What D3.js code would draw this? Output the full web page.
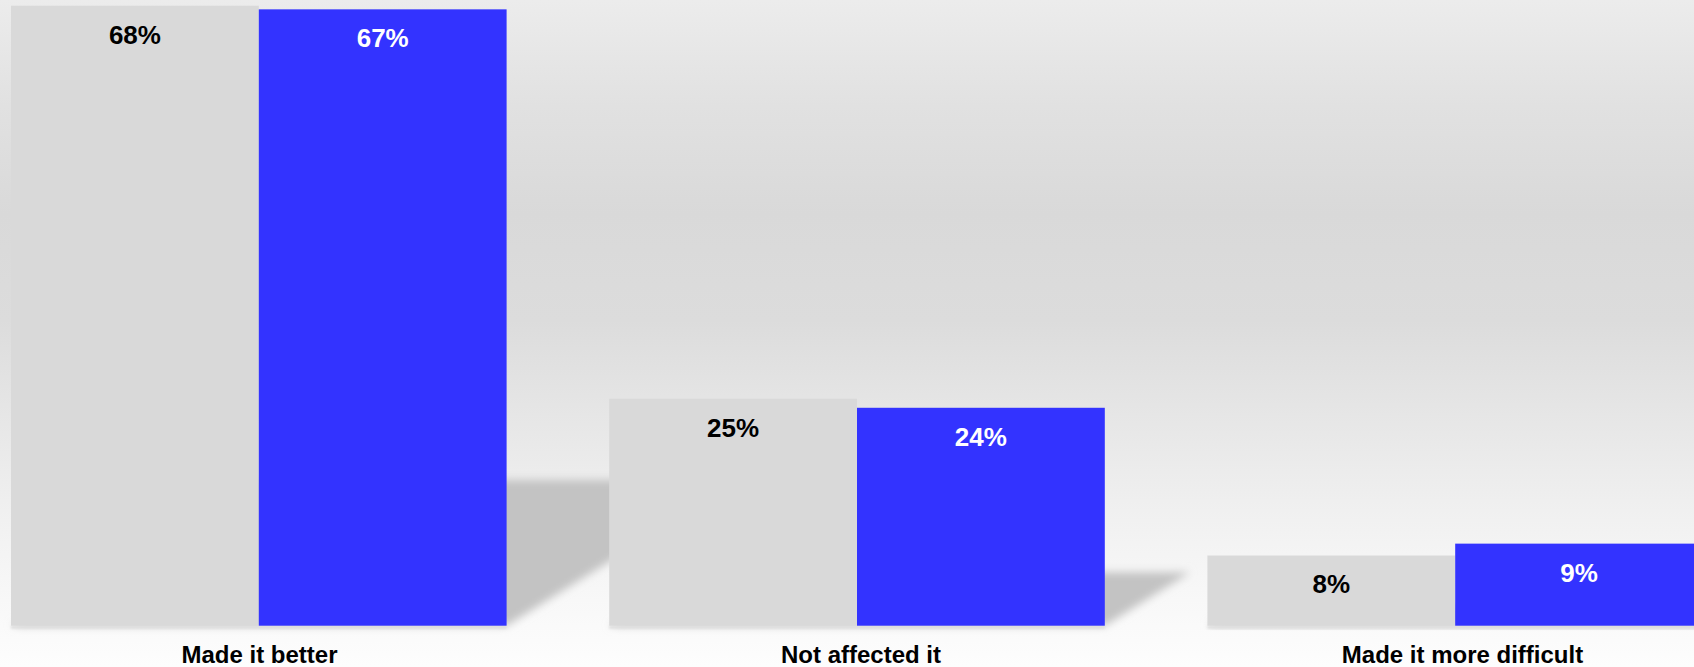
<!DOCTYPE html>
<html>
<head>
<meta charset="utf-8">
<script src="https://cdn.jsdelivr.net/npm/d3@7"></script>
<style>
  html, body { margin: 0; padding: 0; background: #ffffff; }
  svg { display: block; }
  text { font-family: "Liberation Sans", Arial, Helvetica, sans-serif; font-weight: bold; }
</style>
</head>
<body>
<div id="chart"></div>
<script>
// ---- data ----
const categories = ["Made it better", "Not affected it", "Made it more difficult"];
const seriesNames = ["Series A", "Series B"];
const seriesA = [68.0, 24.9, 7.7];
const seriesB = [67.6, 23.9, 9.0];
const labelsA = ["68%", "25%", "8%"];
const labelsB = ["67%", "24%", "9%"];
const yMax = 68;

// ---- layout ----
const W = 1694, H = 667;
const plotLeft = 11, plotRight = 1703, plotTop = 5.7, plotBottom = 625.7;
const colors = { "Series A": "#d9d9d9", "Series B": "#3333ff" };
const labelColors = { "Series A": "#000000", "Series B": "#ffffff" };

const rows = categories.map((c, i) => ({
  category: c,
  values: [
    { key: seriesNames[0], value: seriesA[i], label: labelsA[i] },
    { key: seriesNames[1], value: seriesB[i], label: labelsB[i] }
  ]
}));

const svg = d3.select("#chart").append("svg")
  .attr("width", W).attr("height", H);

const defs = svg.append("defs");
const grad = defs.append("linearGradient").attr("id", "bg")
  .attr("x1", 0).attr("y1", 0).attr("x2", 0).attr("y2", 1);
[[0, "#ececec"], [0.16, "#e1e1e1"], [0.32, "#d9d9d9"], [0.48, "#dcdcdc"],
 [0.65, "#e8e8e8"], [0.78, "#f1f1f1"], [0.9, "#f8f8f8"], [1, "#fdfdfd"]]
  .forEach(([o, c]) => grad.append("stop").attr("offset", o).attr("stop-color", c));

defs.append("filter").attr("id", "blur")
  .attr("x", "-20%").attr("y", "-20%").attr("width", "140%").attr("height", "140%")
  .append("feGaussianBlur").attr("stdDeviation", 4);
defs.append("filter").attr("id", "blur2")
  .attr("x", "-5%").attr("y", "-100%").attr("width", "110%").attr("height", "300%")
  .append("feGaussianBlur").attr("stdDeviation", 1.2);

svg.append("rect").attr("width", W).attr("height", H).attr("fill", "url(#bg)");

const x0 = d3.scaleBand().domain(categories).range([plotLeft, plotRight])
  .paddingInner(0.1715).paddingOuter(0);
const x1 = d3.scaleBand().domain(seriesNames).range([0, x0.bandwidth()]);
const y = d3.scaleLinear().domain([0, yMax]).range([plotBottom, plotTop]);
// category labels sit on their own point scale (slightly wider spacing than the bars)
const xLabel = d3.scalePoint().domain(categories).range([259, 1462]);

// ---- floor shadows ----
const shadowRatio = 0.235, shear = 1.6;
svg.append("g").selectAll("polygon").data(rows).join("polygon")
  .attr("fill", "#c3c3c3")
  .attr("filter", "url(#blur)")
  .attr("points", d => {
    const left = x0(d.category), right = left + x0.bandwidth();
    const hMax = d3.max(d.values, v => y(0) - y(v.value));
    const sh = hMax * shadowRatio, off = sh * shear;
    return [[left, y(0)], [right, y(0)], [right + off, y(0) - sh], [left + off, y(0) - sh]]
      .map(p => p.join(",")).join(" ");
  });

svg.append("g").selectAll("rect").data(rows).join("rect")
  .attr("x", d => x0(d.category))
  .attr("y", y(0))
  .attr("width", x0.bandwidth())
  .attr("height", 3)
  .attr("fill", "#dedede")
  .attr("filter", "url(#blur2)");

// ---- bars ----
const groups = svg.append("g").selectAll("g").data(rows).join("g")
  .attr("transform", d => `translate(${x0(d.category)},0)`);

groups.selectAll("rect").data(d => d.values).join("rect")
  .attr("x", d => x1(d.key))
  .attr("y", d => y(d.value))
  .attr("width", x1.bandwidth())
  .attr("height", d => y(0) - y(d.value))
  .attr("fill", d => colors[d.key]);

groups.selectAll("text").data(d => d.values).join("text")
  .attr("x", d => x1(d.key) + x1.bandwidth() / 2)
  .attr("y", d => y(d.value) + 38)
  .attr("text-anchor", "middle")
  .attr("font-size", 26)
  .attr("fill", d => labelColors[d.key])
  .text(d => d.label);

// ---- category axis ----
const axis = svg.append("g").attr("transform", `translate(0,${plotBottom})`)
  .call(d3.axisBottom(xLabel).tickSize(0));
axis.select(".domain").remove();
axis.selectAll("text")
  .attr("y", 37.3).attr("dy", null)
  .attr("font-size", 24)
  .attr("font-family", "'Liberation Sans', Arial, sans-serif")
  .attr("font-weight", "bold")
  .attr("fill", "#000");
</script>
</body>
</html>
